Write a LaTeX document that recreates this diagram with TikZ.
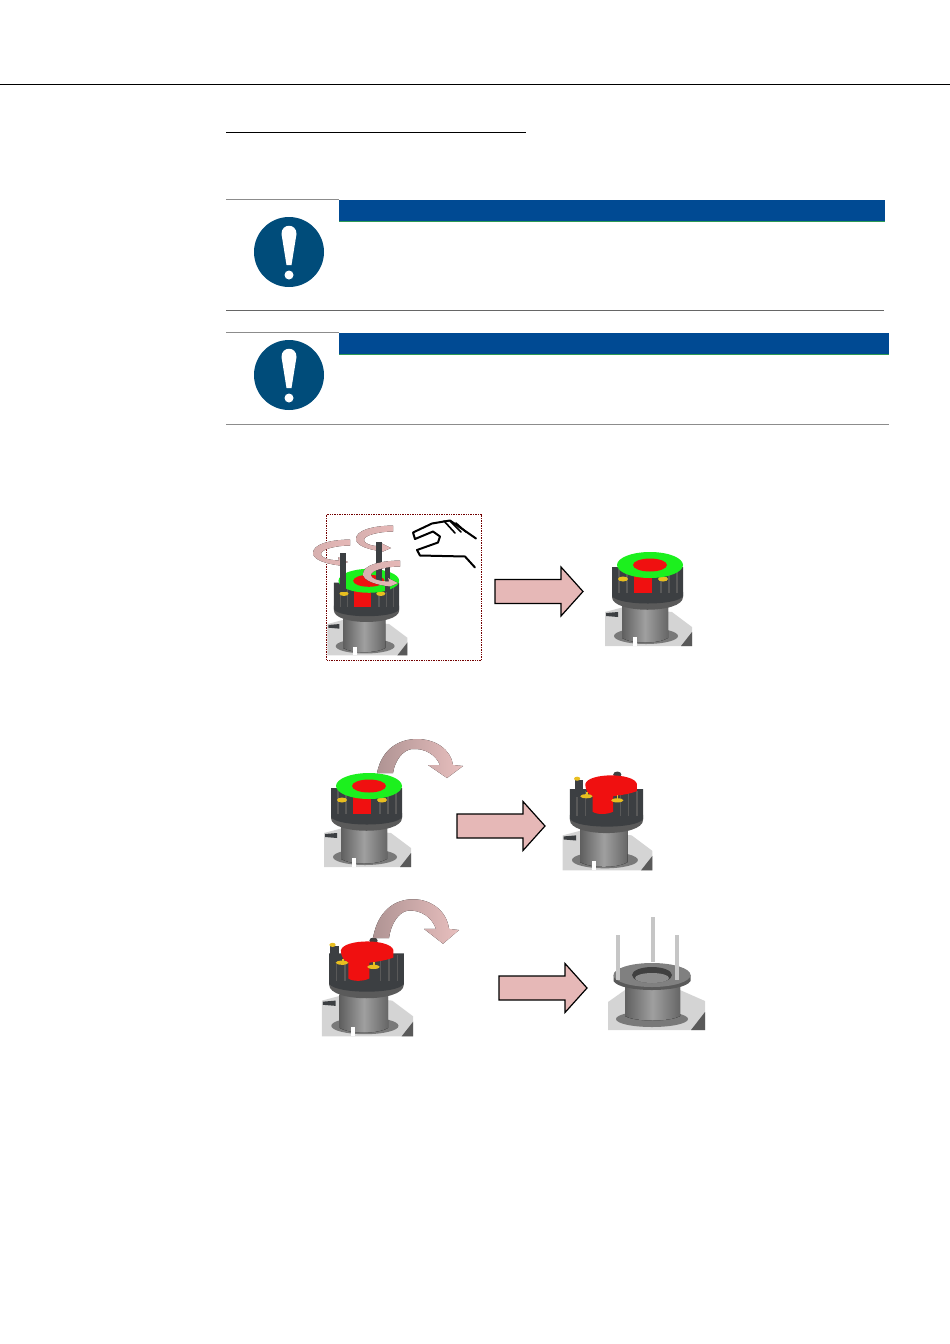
\documentclass[tikz,border=0pt]{standalone}
\usepackage{xcolor}
\usetikzlibrary{positioning,arrows.meta}
\definecolor{barblue}{HTML}{004A93}
\definecolor{barline}{HTML}{2E9A55}
\definecolor{iconblue}{HTML}{004C7A}
\definecolor{rulegrey}{HTML}{8C8C8C}
\definecolor{arrowpink}{HTML}{E6B8B7}
\definecolor{ringgreen}{HTML}{1CF01E}
\definecolor{capred}{HTML}{F01010}
\definecolor{pinyellow}{HTML}{E8BE20}
\definecolor{collardark}{HTML}{3C3F42}
\definecolor{collarmid}{HTML}{5A5A5A}
\definecolor{plategrey}{HTML}{D4D4D4}
\tikzset{
  pics/noticeicon/.style={code={
    \fill[iconblue] (0,0) circle[radius=35];
    \fill[white] (-7.5,-18) .. controls (-7.5,-29) and (7.5,-29) .. (7.5,-18) -- (2.5,13) -- (-2.5,13) -- cycle;
    \fill[white] (0,23) circle[radius=4.5];
  }},
  pics/pinkarrow/.style={code={
    \draw[fill=arrowpink,line width=1.2pt,line join=miter] (0,-12) -- (66,-12) -- (66,-24.5) -- (88,0) -- (66,24.5) -- (66,12) -- (0,12) -- cycle;
  }},
  pics/overarrow/.style={code={
    \fill[left color=arrowpink!70!black!85,right color=arrowpink!90!white] (0,0) .. controls (5,-25) and (23,-34) .. (40,-34) .. controls (59,-34) and (74,-23) .. (76,-8) -- (86,-7) -- (70,5) -- (51,-8) -- (63,-8) .. controls (59,-18) and (48,-25) .. (35,-24) .. controls (26,-23) and (18,-13) .. (16,0) -- cycle;
  }},
  pics/spinribbon/.style={code={
    \fill[left color=arrowpink!85!gray,right color=arrowpink] (18,-12.5) .. controls (-5,-12) and (-19,-7) .. (-19,1) .. controls (-19,8) and (-5,12) .. (8,13.5) -- (16,10) -- (6,5) -- (7,8.5) .. controls (-6,8) and (-11,5) .. (-11,2) .. controls (-11,-3) and (5,-6.5) .. (18,-6.5) -- cycle;
  }},
  pics/devicebody/.style={code={
    \fill[plategrey] (-43,12) -- (-43,46) -- (44,46) -- (44,27) -- (24,12) -- (-24,7) -- cycle;
    \fill[gray!70!black] (44,46) -- (44,32) -- (33,46) -- cycle;
    \fill[collardark] (-42,13) -- (-30,12) -- (-30,17) -- (-42,16) -- cycle;
    \fill[gray!95!black] (-2,36) ellipse[x radius=32,y radius=8];
    \fill[left color=gray!75!black,right color=gray!80!black,middle color=gray!75] (-26,6) -- (20,6) -- (20,38) .. controls (10,44) and (-16,44) .. (-26,38) -- cycle;
    \fill[white] (-15,37) rectangle (-11,46);
    \fill[collarmid] (-36,-8) -- (-36,-3) .. controls (-36,14) and (35,14) .. (35,-3) -- (35,-8) -- cycle;
    \fill[collardark] (-36,-33) -- (-36,-4) .. controls (-30,6) and (30,6) .. (35,-4) -- (35,-33) -- cycle;
    \foreach \fingerx in {-29,-21,13,21,29}
      \draw[gray!70!black,line width=1.5pt] (\fingerx,-31) -- (\fingerx,-7);
  }},
  pics/greenring/.style={code={
    \fill[capred] (-14,-27) rectangle (4,-7);
    \fill[pinyellow] (-25,-21) ellipse[x radius=5,y radius=2.5];
    \fill[pinyellow] (15,-21) ellipse[x radius=5,y radius=2.5];
    \fill[ringgreen] (2,-35) ellipse[x radius=33,y radius=13];
    \fill[capred] (2,-35) ellipse[x radius=17,y radius=6.5];
  }},
  pics/redcap/.style={code={
    \fill[collardark] (-31,-42) rectangle (-23,-25);
    \fill[black!75] (10,-47) ellipse[x radius=4,y radius=3];
    \fill[capred] (-21,-38) .. controls (-18,-49) and (26,-49) .. (29,-38) -- (29,-31) .. controls (22,-28) and (12,-27) .. (6,-26) -- (6,-11) .. controls (0,-8) and (-10,-8) .. (-14,-11) -- (-14,-26) .. controls (-18,-28) and (-21,-31) .. (-21,-38) -- cycle;
    \fill[pinyellow] (-20,-26) ellipse[x radius=6,y radius=2];
    \fill[pinyellow] (-20,-30) rectangle (-18.5,-24);
    \fill[pinyellow] (10,-22) ellipse[x radius=6,y radius=2];
    \fill[pinyellow] (9.5,-27) rectangle (11,-20);
    \fill[pinyellow] (-29,-43) ellipse[x radius=3,y radius=2];
  }},
}
\begin{document}
\begin{tikzpicture}[x=1pt,y=-1pt]
\useasboundingbox (0,0) rectangle (950,1344);
\draw[black,line width=.8pt] (0,84) -- (950,84);
\draw[black,line width=1pt] (226,132) -- (526,132);

\draw[rulegrey,line width=1pt] (226,199.5) -- (339,199.5);
\fill[barblue] (339,199.5) rectangle (885,221);
\draw[barline,line width=.8pt] (339,221) -- (885,221);
\pic at (289,252) {noticeicon};
\draw[gray!80!black,line width=1pt] (226,310.5) -- (884,310.5);

\draw[rulegrey,line width=1pt] (226,332.5) -- (339,332.5);
\fill[barblue] (339,332.5) rectangle (889,354);
\draw[barline,line width=.8pt] (339,354) -- (889,354);
\pic at (289,375) {noticeicon};
\draw[rulegrey,line width=1pt] (226,424.5) -- (889,424.5);

\draw[red!45!black,densely dotted,line width=.7pt] (326.5,514.5) rectangle (481.5,660);
\pic at (332,552) {spinribbon};
\pic at (375,538) {spinribbon};
\pic[scale=.92] at (367,613) {devicebody};
\pic[scale=.92] at (367,613) {greenring};
\fill[collardark] (340,553) rectangle (346,592);
\fill[collardark] (376,542) rectangle (382,581);
\fill[collardark] (385,567) rectangle (390,592);
\pic at (382,573) {spinribbon};
\draw[black,line width=2pt,line join=round,line cap=round] (475,567.5) -- (465,556.5) -- (420,555.5) -- (417,550) -- (438,542.5) -- (440,536.5) -- (433,531.5) -- (415,539) -- (413,532.5) -- (432,523.5) -- (450,520.5) -- (476,538.5);
\draw[black,line width=1.6pt,line cap=round] (444,521) -- (455,533);
\draw[black,line width=1.6pt,line cap=round] (450,521) -- (461,532);
\draw[black,line width=1.6pt,line cap=round] (456,523) -- (466,532);

\pic at (495,591.5) {pinkarrow};
\pic at (648,600) {devicebody};
\pic at (648,600) {greenring};

\pic at (367,821) {devicebody};
\pic at (367,821) {greenring};
\pic at (377,773) {overarrow};
\pic at (457,826) {pinkarrow};
\pic[scale=1.03] at (607,823) {devicebody};
\pic[scale=1.03] at (607,823) {redcap};

\pic[scale=1.05] at (367,988) {devicebody};
\pic[scale=1.05] at (363,990) {redcap};
\pic[yscale=1.14] at (373,938) {overarrow};
\pic at (499,988) {pinkarrow};

\fill[plategrey] (608,1002) -- (608,1030) -- (705,1030) -- (705,1001) -- (680,990) -- (625,990) -- cycle;
\fill[gray!70!black] (705,1030) -- (705,1012) -- (691,1030) -- cycle;
\fill[gray!95!black] (652,1019) ellipse[x radius=36,y radius=8];
\fill[left color=gray!75!black,right color=gray!80!black,middle color=gray!75] (625,978) -- (680,978) -- (680,1016) .. controls (670,1022) and (635,1022) .. (625,1016) -- cycle;
\fill[collarmid] (613.5,975) -- (613.5,981) .. controls (620,993) and (684,993) .. (690.5,981) -- (690.5,975) -- cycle;
\fill[gray] (652,975) ellipse[x radius=38.5,y radius=12];
\fill[gray!50!black] (652,975) ellipse[x radius=20,y radius=8];
\fill[gray!90] (652,978) ellipse[x radius=17,y radius=5];
\foreach \rodx/\rodtop/\rodend in {618/935/980,653/917/962,677/935/980}
  \draw[gray!45,line width=3.4pt] (\rodx,\rodtop) -- (\rodx,\rodend);
\end{tikzpicture}
\end{document}
